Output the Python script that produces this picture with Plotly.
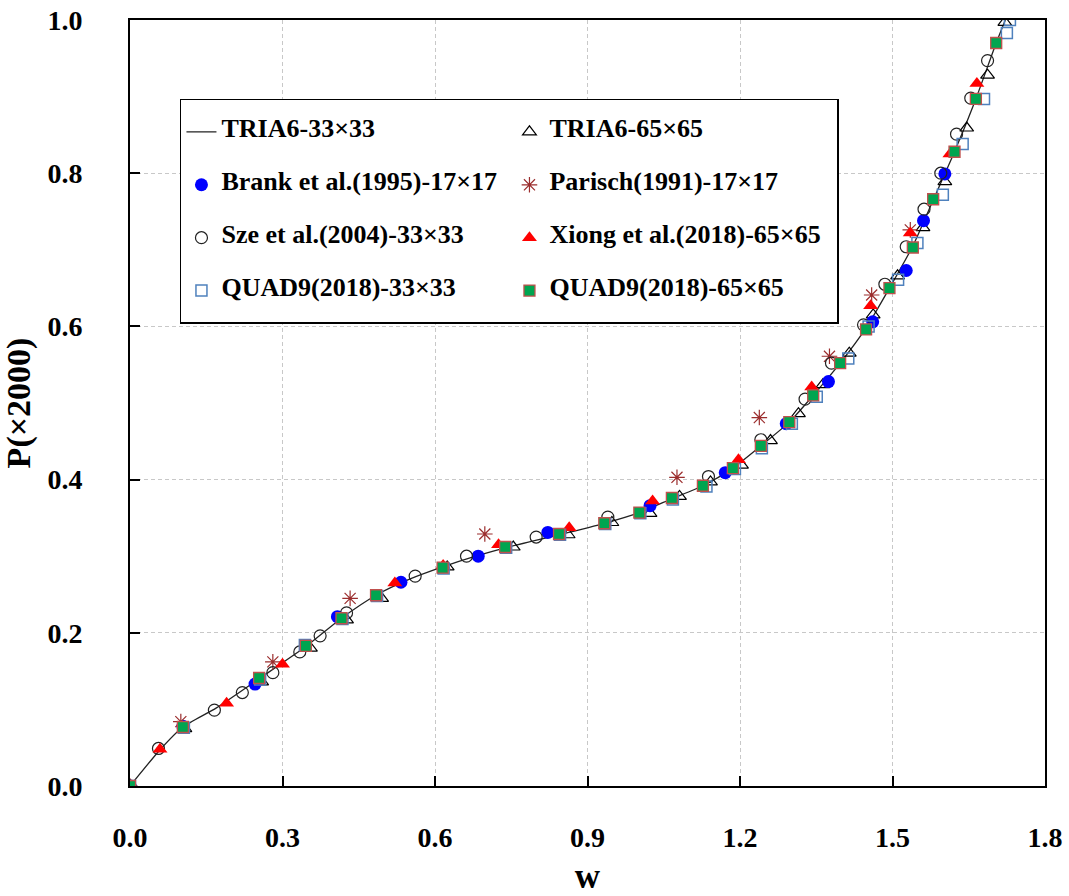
import plotly.graph_objects as go

# TRIA6-33x33 (solid line)
tria33_w = [0.0, 0.06, 0.104, 0.17, 0.254, 0.346, 0.416, 0.484, 0.55, 0.615, 0.68, 0.738, 0.844, 0.933,
            1.002, 1.066, 1.127, 1.186, 1.241, 1.297, 1.344, 1.397, 1.448, 1.494, 1.540, 1.580, 1.622,
            1.664, 1.704, 1.722]
tria33_p = [0.0, 0.048, 0.077, 0.102, 0.140, 0.182, 0.219, 0.249, 0.270, 0.286, 0.300, 0.311, 0.328, 0.343,
            0.357, 0.375, 0.392, 0.415, 0.444, 0.475, 0.510, 0.552, 0.598, 0.650, 0.705, 0.765, 0.828,
            0.897, 0.970, 1.0]

# TRIA6-65x65
tria65_w = [0.0, 0.108, 0.259, 0.355, 0.426, 0.495, 0.624, 0.754, 0.862, 0.948, 1.023, 1.081, 1.142, 1.203,
            1.260, 1.315, 1.363, 1.415, 1.462, 1.510, 1.560, 1.603, 1.646, 1.687, 1.721]
tria65_p = [0.0, 0.075, 0.136, 0.180, 0.217, 0.245, 0.286, 0.312, 0.328, 0.344, 0.356, 0.378, 0.397, 0.419,
            0.451, 0.486, 0.524, 0.565, 0.615, 0.666, 0.729, 0.789, 0.859, 0.928, 0.997]

# Brank et al.(1995)-17x17
brank_w = [0.0, 0.104, 0.246, 0.408, 0.533, 0.685, 0.822, 1.023, 1.171, 1.291, 1.374, 1.461, 1.527, 1.561, 1.603]
brank_p = [0.0, 0.078, 0.133, 0.221, 0.266, 0.300, 0.331, 0.366, 0.409, 0.473, 0.528, 0.606, 0.673, 0.738, 0.799]

# Parisch(1991)-17x17
parisch_w = [0.0, 0.100, 0.281, 0.433, 0.698, 1.076, 1.238, 1.376, 1.459, 1.535]
parisch_p = [0.0, 0.084, 0.162, 0.245, 0.329, 0.403, 0.481, 0.561, 0.641, 0.726]

# Sze et al.(2004)-33x33
sze_w = [0.0, 0.056, 0.166, 0.221, 0.281, 0.334, 0.374, 0.426, 0.561, 0.662, 0.799, 0.940, 1.138, 1.241,
         1.328, 1.380, 1.443, 1.485, 1.527, 1.562, 1.595, 1.626, 1.654, 1.687]
sze_p = [0.0, 0.049, 0.099, 0.122, 0.148, 0.175, 0.196, 0.226, 0.274, 0.300, 0.325, 0.351, 0.404, 0.452,
         0.505, 0.552, 0.602, 0.655, 0.704, 0.753, 0.800, 0.851, 0.898, 0.947]

# Xiong et al.(2018)-65x65
xiong_w = [0.0, 0.059, 0.190, 0.300, 0.521, 0.616, 0.725, 0.864, 1.028, 1.197, 1.341, 1.457, 1.535, 1.613, 1.666]
xiong_p = [0.0, 0.048, 0.108, 0.159, 0.265, 0.288, 0.315, 0.337, 0.372, 0.426, 0.521, 0.627, 0.722, 0.825, 0.917]

# QUAD9(2018)-33x33
q33_w = [0.0, 0.106, 0.256, 0.344, 0.418, 0.486, 0.617, 0.740, 0.846, 0.935, 1.004, 1.068, 1.134, 1.190,
         1.243, 1.302, 1.351, 1.413, 1.453, 1.511, 1.549, 1.599, 1.638, 1.680, 1.725, 1.731]
q33_p = [0.0, 0.076, 0.139, 0.184, 0.218, 0.248, 0.284, 0.311, 0.328, 0.342, 0.356, 0.374, 0.391, 0.414,
         0.441, 0.473, 0.508, 0.558, 0.600, 0.661, 0.709, 0.772, 0.838, 0.897, 0.983, 1.000]

# QUAD9(2018)-65x65
q65_w = [0.0, 0.104, 0.254, 0.346, 0.416, 0.484, 0.615, 0.738, 0.844, 0.933, 1.002, 1.066, 1.127, 1.186,
         1.241, 1.297, 1.344, 1.397, 1.448, 1.494, 1.540, 1.580, 1.622, 1.664, 1.704]
q65_p = [0.0, 0.077, 0.141, 0.183, 0.219, 0.249, 0.285, 0.312, 0.329, 0.343, 0.357, 0.376, 0.392, 0.415,
         0.444, 0.475, 0.510, 0.552, 0.596, 0.650, 0.703, 0.766, 0.828, 0.897, 0.970]

x_ticks = [0.0, 0.3, 0.6, 0.9, 1.2, 1.5, 1.8]
x_tick_labels = ["0.0", "0.3", "0.6", "0.9", "1.2", "1.5", "1.8"]
y_ticks = [0.0, 0.2, 0.4, 0.6, 0.8, 1.0]
y_tick_labels = ["0.0", "0.2", "0.4", "0.6", "0.8", "1.0"]

FONT = "Liberation Serif, Times New Roman, serif"
PAD = "\u00a0"


def lab(t):
    return PAD + "<br><span style='font-size:26px'><b>" + t + "</b></span><br>" + PAD


fig = go.Figure()
fig.add_trace(go.Scatter(x=tria33_w, y=tria33_p, mode="lines", name=lab("TRIA6-33×33"),
                         line=dict(color="#222222", width=1.3, shape="spline", smoothing=0.6)))
fig.add_trace(go.Scatter(x=tria65_w, y=tria65_p, mode="markers", name=lab("TRIA6-65×65"),
                         marker=dict(symbol="triangle-up-open", size=12, color="black",
                                     line=dict(width=1.2, color="black"))))
fig.add_trace(go.Scatter(x=brank_w, y=brank_p, mode="markers", name=lab("Brank et al.(1995)-17×17"),
                         marker=dict(symbol="circle", size=13, color="#0000ff")))
fig.add_trace(go.Scatter(x=parisch_w, y=parisch_p, mode="markers", name=lab("Parisch(1991)-17×17"),
                         marker=dict(symbol="asterisk-open", size=13, color="#9b2d2d",
                                     line=dict(width=1.2, color="#9b2d2d"))))
fig.add_trace(go.Scatter(x=sze_w, y=sze_p, mode="markers", name=lab("Sze et al.(2004)-33×33"),
                         marker=dict(symbol="circle-open", size=12, color="#222222",
                                     line=dict(width=1.2, color="#222222"))))
fig.add_trace(go.Scatter(x=xiong_w, y=xiong_p, mode="markers", name=lab("Xiong et al.(2018)-65×65"),
                         marker=dict(symbol="triangle-up", size=13, color="#ff0000")))
fig.add_trace(go.Scatter(x=q33_w, y=q33_p, mode="markers", name=lab("QUAD9(2018)-33×33"),
                         marker=dict(symbol="square-open", size=11, color="#4f81bd",
                                     line=dict(width=1.5, color="#4f81bd"))))
fig.add_trace(go.Scatter(x=q65_w, y=q65_p, mode="markers", name=lab("QUAD9(2018)-65×65"),
                         marker=dict(symbol="square", size=11, color="#00a550",
                                     line=dict(width=1.3, color="#c0504d"))))

axis_common = dict(
    showline=True, linecolor="black", linewidth=2, mirror=True,
    ticks="inside", ticklen=10, tickwidth=2, tickcolor="black",
    showgrid=True, gridcolor="#c8c8c8", griddash="4px,3px", gridwidth=1,
    zeroline=False, automargin=False,
    tickfont=dict(family=FONT, size=28, color="black", weight="bold"),
)

fig.update_layout(
    width=1069, height=896,
    margin=dict(l=130, r=24, t=20, b=110, autoexpand=False),
    paper_bgcolor="white", plot_bgcolor="white",
    font=dict(family=FONT, color="black"),
    xaxis=dict(range=[0, 1.8], tickvals=x_ticks, ticktext=x_tick_labels, ticklabelstandoff=25,
               title=dict(text="<b>w</b>", font=dict(family=FONT, size=35), standoff=22),
               **axis_common),
    yaxis=dict(range=[0, 1.0], tickvals=y_ticks, ticktext=y_tick_labels, ticklabelstandoff=40,
               title=dict(text="<b>P(×2000)</b>", font=dict(family=FONT, size=34), standoff=10),
               **axis_common),
    legend=dict(
        x=0.0546, y=0.897, xanchor="left", yanchor="top",
        orientation="h", entrywidth=283, entrywidthmode="pixels",
        font=dict(family=FONT, size=12.8, color="black"),
        bordercolor="black", borderwidth=1.5, bgcolor="white",
        itemsizing="trace",
    ),
)

fig.write_html("out.html", config={"displayModeBar": False},
               post_script="document.body.style.margin='0';")
